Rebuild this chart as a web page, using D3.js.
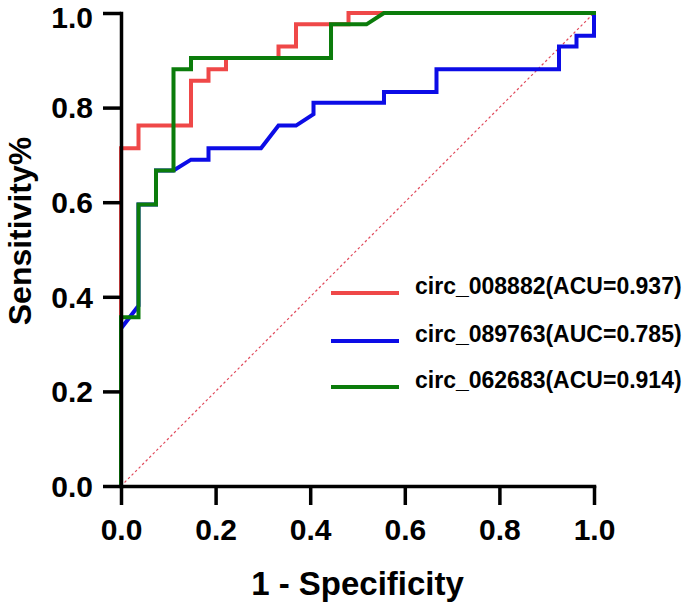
<!DOCTYPE html>
<html><head><meta charset="utf-8">
<script src="https://cdn.jsdelivr.net/npm/d3@7"></script>
<style>body{margin:0;background:#fff}svg{display:block}text{font-family:"Liberation Sans",Arial,sans-serif;font-weight:bold;fill:#000}</style>
</head><body>
<script>
const xTicks = [0, 0.2, 0.4, 0.6, 0.8, 1.0];
const yTicks = [0, 0.2, 0.4, 0.6, 0.8, 1.0];
const seriesNames = ["circ_008882(ACU=0.937)", "circ_089763(AUC=0.785)", "circ_062683(ACU=0.914)"];
const seriesColors = ["#ef4848", "#0c0ce6", "#0b7c0b"];
const redX = [0,0,0.037,0.037,0.148,0.148,0.185,0.185,0.222,0.222,0.333,0.333,0.370,0.370,0.481,0.481,1];
const redY = [0,0.714,0.714,0.762,0.762,0.857,0.857,0.881,0.881,0.905,0.905,0.929,0.929,0.976,0.976,1,1];
const blueX = [0,0,0.037,0.037,0.074,0.074,0.111,0.148,0.185,0.185,0.296,0.333,0.370,0.407,0.407,0.556,0.556,0.667,0.667,0.926,0.926,0.963,0.963,1,1];
const blueY = [0,0.333,0.381,0.595,0.595,0.667,0.667,0.690,0.690,0.714,0.714,0.762,0.762,0.786,0.810,0.810,0.833,0.833,0.881,0.881,0.929,0.929,0.952,0.952,1];
const greenX = [0,0,0.037,0.037,0.074,0.074,0.111,0.111,0.148,0.148,0.444,0.444,0.519,0.556,1];
const greenY = [0,0.357,0.357,0.595,0.595,0.667,0.667,0.881,0.881,0.905,0.905,0.976,0.976,1,1];
const refX = [0, 1];
const refY = [0, 1];

const W = 685, H = 602;
const m = {left: 121, right: 91, top: 13, bottom: 116};
const svg = d3.select("body").append("svg").attr("width", W).attr("height", H);
const x = d3.scaleLinear().domain([0, 1]).range([m.left, W - m.right]);
const y = d3.scaleLinear().domain([0, 1]).range([H - m.bottom, m.top]);

const line = d3.line().x(d => x(d[0])).y(d => y(d[1]));
const zip = (a, b) => a.map((v, i) => [v, b[i]]);

// reference diagonal
svg.append("path").datum(zip(refX, refY)).attr("d", line)
  .attr("fill", "none").attr("stroke", "#e04a5c").attr("stroke-width", 1.2).attr("stroke-dasharray", "2.5,2.5");

const series = [zip(redX, redY), zip(blueX, blueY), zip(greenX, greenY)];
series.forEach((s, i) => {
  svg.append("path").datum(s).attr("d", line)
    .attr("fill", "none").attr("stroke", seriesColors[i]).attr("stroke-width", 4)
    .attr("stroke-linejoin", "miter").attr("stroke-linecap", "square");
});

// axes
const xAxis = svg.append("g").attr("transform", `translate(0,${y(0)})`)
  .call(d3.axisBottom(x).tickValues(xTicks).tickFormat(d3.format(".1f")).tickSize(19).tickSizeOuter(0).tickPadding(14));
const yAxis = svg.append("g").attr("transform", `translate(${x(0)},0)`)
  .call(d3.axisLeft(y).tickValues(yTicks).tickFormat(d3.format(".1f")).tickSize(18).tickSizeOuter(0).tickPadding(10));
[xAxis, yAxis].forEach(g => {
  g.select(".domain").attr("stroke", "#000").attr("stroke-width", 3.5).attr("stroke-linecap", "square");
  g.selectAll(".tick line").attr("stroke", "#000").attr("stroke-width", 3.5);
  g.selectAll(".tick text").attr("font-size", 30).attr("font-family", '"Liberation Sans",Arial,sans-serif').attr("font-weight", "bold").attr("fill", "#000");
});
yAxis.selectAll(".tick text").attr("dy", d => d === 1 ? "0.47em" : "0.34em");

svg.append("text").attr("x", (x(0) + x(1)) / 2).attr("y", 595).attr("text-anchor", "middle")
  .attr("font-size", 33).text("1 - Specificity");
svg.append("text").attr("transform", "translate(31,231) rotate(-90)").attr("text-anchor", "middle")
  .attr("font-size", 32).text("Sensitivity%");

// legend
const legY = [293, 341, 387];
seriesNames.forEach((n, i) => {
  svg.append("line").attr("x1", 331).attr("x2", 399).attr("y1", legY[i]).attr("y2", legY[i])
    .attr("stroke", seriesColors[i]).attr("stroke-width", 4);
  svg.append("text").attr("x", 415).attr("y", legY[i] + 1).attr("font-size", 23).text(n);
});
</script>
</body></html>
